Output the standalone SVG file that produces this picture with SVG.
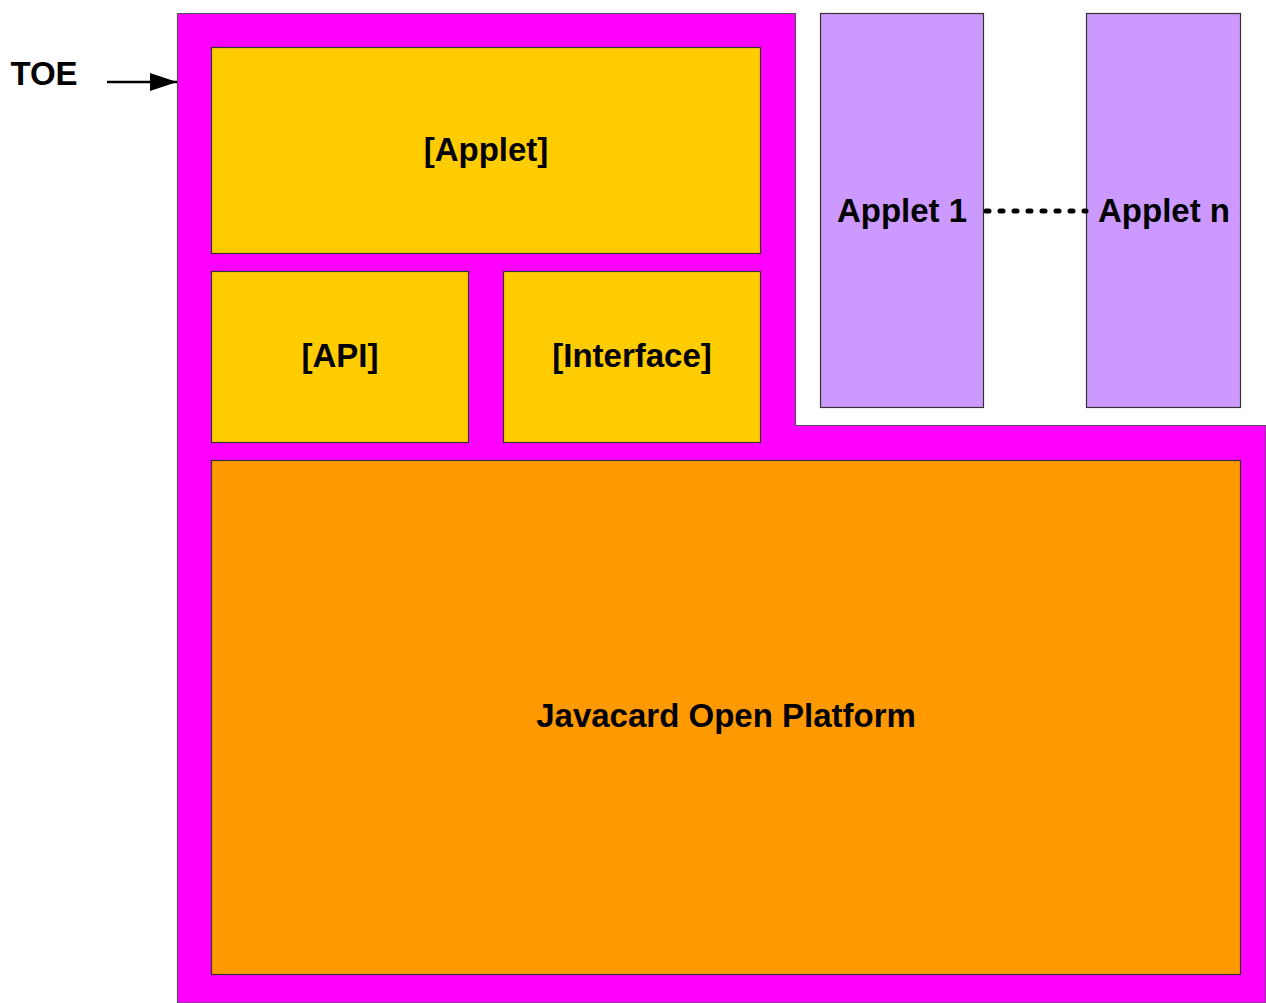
<svg xmlns="http://www.w3.org/2000/svg" width="1266" height="1003" viewBox="0 0 1266 1003">
<defs>
<style>
.box{stroke:#333;stroke-width:1.2}
.y{fill:#ffcc00}
.o{fill:#ff9900}
.p{fill:#cc99ff}
.t{font-family:"Liberation Sans",Arial,sans-serif;font-weight:bold;font-size:33px;fill:#000;text-anchor:middle}
</style>
<marker id="ah" markerWidth="27" markerHeight="18" refX="27" refY="9" orient="auto" markerUnits="userSpaceOnUse" viewBox="0 0 27 18">
<path d="M0,0 L27,9 L0,18 z" fill="#000"/>
</marker>
</defs>
<rect width="1266" height="1003" fill="#fff"/>
<g id="toe-frame">
<path d="M177.5,1003 L177.5,13.5 L795.5,13.5 L795.5,425.5 L1266,425.5 L1266,1003 z" fill="#ff00ff" stroke="#555" stroke-width="1.2"/>
</g>
<g id="applet-box">
<rect class="box y" x="211.5" y="47.5" width="549" height="206"/>
<text class="t" x="486" y="161">[Applet]</text>
</g>
<g id="api-box">
<rect class="box y" x="211.5" y="271.5" width="257" height="171"/>
<text class="t" x="340" y="367">[API]</text>
</g>
<g id="interface-box">
<rect class="box y" x="503.5" y="271.5" width="257" height="171"/>
<text class="t" x="632" y="367">[Interface]</text>
</g>
<g id="platform-box">
<rect class="box o" x="211.5" y="460.5" width="1029" height="514"/>
<text class="t" x="726" y="727">Javacard Open Platform</text>
</g>
<g id="applet1">
<rect class="box p" x="820.5" y="13.5" width="163" height="394"/>
<text class="t" x="902" y="222">Applet 1</text>
</g>
<g id="appletn">
<rect class="box p" x="1086.5" y="13.5" width="154" height="394"/>
<text class="t" x="1164" y="222">Applet n</text>
</g>
<g id="toe-label">
<text class="t" x="44" y="85">TOE</text>
</g>
<g id="connectors">
<line x1="986" y1="211" x2="1086" y2="211" stroke="#000" stroke-width="5" stroke-linecap="round" stroke-dasharray="3 11"/>
<line x1="107" y1="82" x2="177" y2="82" stroke="#000" stroke-width="2.5" marker-end="url(#ah)"/>
</g>
</svg>
